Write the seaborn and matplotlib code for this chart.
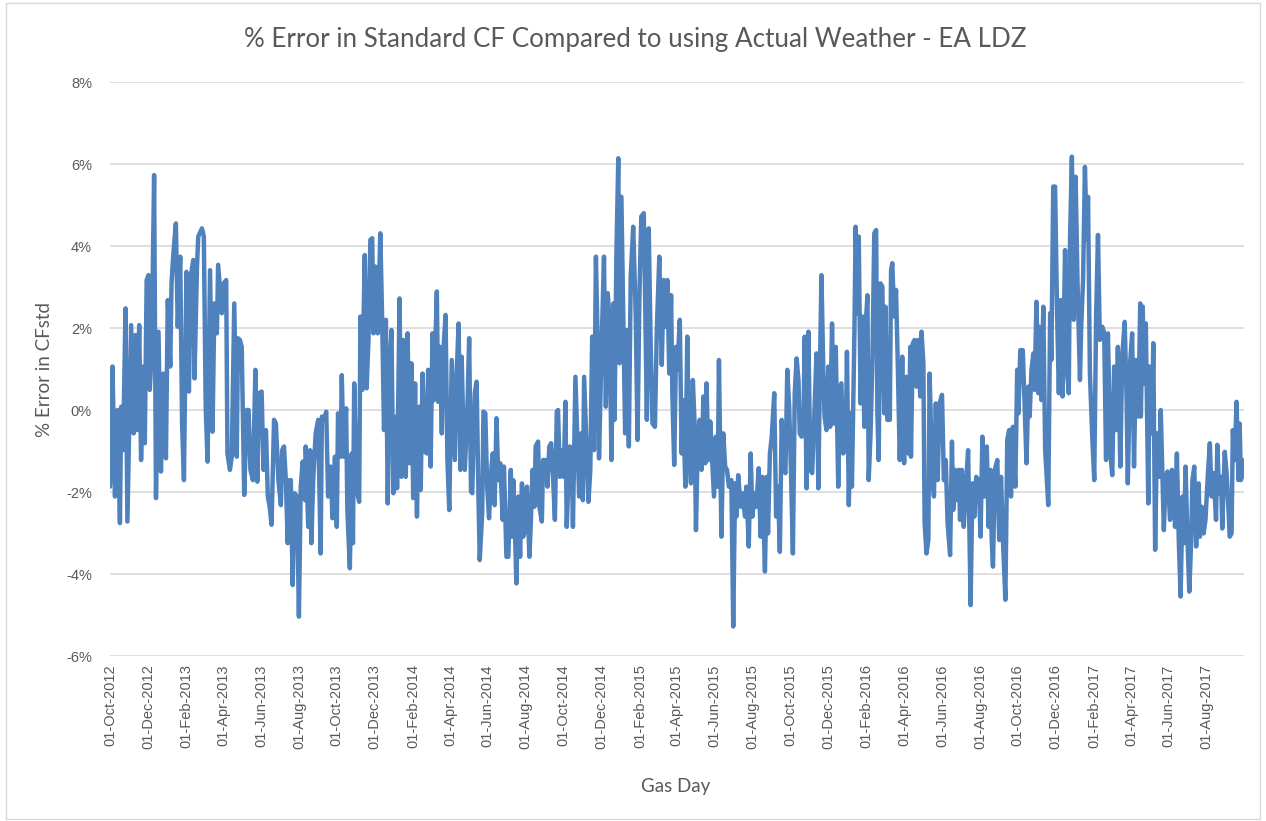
import pandas as pd
import numpy as np
import seaborn as sns
import matplotlib.pyplot as plt
import matplotlib.dates as mdates
from matplotlib.patches import Rectangle
from matplotlib.ticker import FuncFormatter

# gas days counted from 01-Oct-2012, and the % error
start_day = '2012-10-01'
day_offset = [
    0, 2, 4, 8, 12, 16, 18, 21, 25, 28, 34, 38, 41, 43, 47, 50, 54, 56, 59, 62, 64, 67, 71, 74, 78, 82, 86, 90,
    93, 97, 99, 102, 106, 109, 113, 116, 119, 123, 127, 130, 134, 136, 140, 142, 148, 151, 154, 157, 161, 165,
    168, 172, 174, 180,
    183, 187, 189, 193, 196, 200, 204, 206, 209, 212, 216, 220, 223, 226, 230, 234, 237, 240, 244, 247, 251,
    254, 257, 260, 264, 267, 271, 275, 277, 280, 283, 286, 289, 291, 294, 297, 301, 304, 307, 310, 314, 315,
    319, 322, 324, 327, 331, 335, 339, 341, 344, 348, 351, 355, 358, 362, 365, 367,
    371, 373, 376, 380, 382, 386, 389, 391, 393, 397, 401, 403, 406, 410, 413, 416, 419, 422, 424, 427, 431,
    435, 438, 441, 444, 447, 450, 453, 456, 460, 462, 466, 469, 472, 476, 479, 482, 485, 488, 491, 494, 497,
    500, 503, 507, 510, 512, 516, 519, 521, 526, 528, 531, 534, 536, 540, 543, 546, 550,
    555, 558, 561, 564, 566, 568, 571, 575, 578, 581, 583, 587, 590, 593, 595, 599, 601, 604, 607, 610, 614,
    616, 619, 622, 625, 628, 632, 634, 638, 641, 645, 647, 649, 652, 654, 657, 660, 663, 665, 668, 671, 675,
    677, 680, 683, 685, 689, 691, 695, 697, 701, 704, 707, 710, 713, 716, 719, 721, 724, 727, 730, 733, 735,
    740, 743, 745, 749, 751, 755, 758, 761, 763, 766, 770, 773, 776, 779, 782, 785, 787, 791, 795, 798, 801,
    804, 807, 810, 812, 815, 818, 820, 823, 826, 829, 832, 835, 838, 842, 846, 849, 852, 855, 859, 861, 864,
    867, 870, 873, 877, 880, 884, 888, 891, 894, 897, 900, 903, 905, 908, 911, 913, 917, 920,
    922, 926, 929, 932, 935, 938, 941, 943, 946, 949, 952, 955, 958, 960, 963, 966, 969, 972, 975, 978, 980,
    984, 987, 990, 993, 996, 1000, 1003, 1006, 1008, 1011, 1015, 1018, 1022, 1024, 1028, 1031, 1034, 1037,
    1040, 1044, 1047, 1050, 1054, 1057, 1059, 1062, 1065, 1069, 1072, 1075, 1078, 1081, 1084, 1087, 1090,
    1093, 1096, 1099, 1102, 1105,
    1108, 1110, 1113, 1116, 1118, 1121, 1124, 1127, 1130, 1133, 1137, 1140, 1143, 1145, 1148, 1150, 1153,
    1156, 1159, 1162, 1165, 1168, 1172, 1175, 1177, 1180, 1184, 1186, 1189, 1192, 1194, 1198, 1200, 1203,
    1205, 1208, 1211, 1214, 1216, 1219, 1221, 1224, 1227, 1230, 1233, 1235, 1237, 1240, 1243, 1246, 1248,
    1251, 1255, 1257, 1259, 1262, 1265, 1268, 1271, 1275, 1278, 1281, 1285, 1288,
    1289, 1292, 1295, 1298, 1301, 1304, 1306, 1309, 1311, 1314, 1317, 1319, 1323, 1326, 1329, 1332, 1335,
    1339, 1342, 1345, 1348, 1352, 1355, 1357, 1360, 1362, 1366, 1368, 1371, 1374, 1377, 1381, 1383, 1385,
    1388, 1391, 1394, 1398, 1401, 1404, 1407, 1411, 1414, 1417, 1419, 1421, 1424, 1428, 1431, 1434, 1437,
    1441, 1444, 1447, 1450, 1453, 1457, 1460, 1462, 1465, 1469,
    1475, 1478, 1480, 1483, 1486, 1488, 1491, 1494, 1496, 1499, 1502, 1505, 1510, 1513, 1515, 1518, 1521,
    1524, 1527, 1530, 1533, 1537, 1540, 1543, 1545, 1548, 1551, 1554, 1557, 1561, 1563, 1566, 1569, 1572,
    1574, 1577, 1581, 1584, 1587, 1590, 1593, 1597, 1600, 1603, 1606, 1610, 1613, 1616, 1619, 1622, 1626,
    1629, 1633, 1636, 1638, 1642, 1645, 1648, 1651, 1655, 1658,
    1659, 1662, 1664, 1667, 1671, 1673, 1677, 1679, 1682, 1685, 1688, 1691, 1694, 1696, 1699, 1702, 1706,
    1709, 1712, 1714, 1717, 1720, 1723, 1726, 1728, 1731, 1734, 1737, 1740, 1742, 1745, 1748, 1752, 1754,
    1757, 1760, 1763, 1767, 1770, 1773, 1776, 1780, 1782, 1785, 1788, 1790, 1794, 1797, 1799, 1802, 1805,
    1807, 1810, 1813, 1816, 1818, 1820, 1822, 1825,
]
error_pct = [
    -1.87, -1.14, 1.06, -2.11, 0.0, -2.76, 0.08, -0.98, 2.48, -2.72, 2.07, -0.57, 1.83, -0.49, 2.07, -1.22,
    1.06, -0.81, 3.17, 3.29, 0.49, 1.38, 5.73, -2.15, 1.91, -1.50, 0.89, -1.18, 2.68, 1.06, 3.09, 3.82, 4.55,
    2.03, 3.74, -0.33, -1.71, 3.37, 0.45, 3.25, 3.66, 0.77, 3.50, 4.23, 4.43, 4.23, 0.08, -1.26, 3.41, -0.53,
    2.60, 1.87, 3.54, 2.36,
    3.09, 3.17, -1.06, -1.46, -1.14, 2.60, -1.14, 1.75, 1.71, 1.54, -2.07, 0.0, 0.0, -1.46, -1.71, 0.98,
    -1.75, 0.41, 0.45, -1.46, -0.49, -2.11, -2.36, -2.80, -0.24, -0.33, -1.71, -2.32, -0.98, -0.89, -1.71,
    -3.25, -1.71, -1.71, -4.27, -2.03, -2.11, -5.04, -1.87, -1.26, -2.20, -0.89, -2.85, -0.98, -3.25, -1.71,
    -0.57, -0.24, -3.50, -0.16, -0.24, -0.04, -2.11, -1.38, -2.64, -1.14, -2.85, -0.08,
    -1.14, 0.85, -1.14, 0.04, -2.44, -3.86, -1.06, -3.25, 0.65, -1.95, -2.24, 2.28, 0.49, 3.78, 0.53, 1.71,
    4.15, 4.19, 1.87, 3.50, 1.87, 4.31, 2.20, -0.49, 2.20, -2.28, 1.06, 1.95, -2.03, -0.16, -1.91, 2.72,
    -1.63, 1.71, -1.63, 1.87, -1.30, 1.14, -2.15, 0.65, -2.60, 0.08, -1.95, 0.89, -1.02, -1.06, 0.98, -1.38,
    1.87, 0.24, 2.89, 0.20, 1.54, -0.57, 1.30, 2.32, -1.22, -2.44, 1.22,
    -1.22, 0.89, 2.11, -1.46, 1.30, -0.08, -1.46, -0.08, 1.75, -1.99, -2.03, 0.41, 0.69, -2.11, -3.66, -2.52,
    -0.04, -0.08, -1.87, -2.64, -1.38, -1.06, -2.32, -0.20, -1.71, -1.30, -2.68, -1.38, -3.58, -3.58, -1.46,
    -3.09, -1.71, -3.09, -4.23, -2.11, -3.58, -1.79, -3.09, -2.93, -1.87, -3.58, -2.85, -1.46, -2.36, -0.89,
    -0.77, -2.36, -2.72, -1.22, -1.22, -1.87, -0.89, -0.81, -1.63, -2.68, -0.04, 0.0, -1.63, -0.98, -1.63,
    0.20, -2.85,
    -0.89, -0.98, -2.85, 0.81, -0.16, -2.11, -0.57, -2.20, 0.81, -0.49, -2.24, -1.46, 1.79, -0.98, 3.74, 1.54,
    -1.18, 1.46, 3.74, 0.08, 2.85, 2.20, -1.22, 2.60, -0.24, 3.82, 6.14, 1.14, 5.20, 2.36, -0.57, 1.95, -0.89,
    3.25, 4.47, 2.36, -0.73, 2.76, 4.72, 4.80, 2.93, -0.24, 4.43, 1.71, -0.33, -0.41, 1.95, 3.74, 1.10, 3.17,
    2.03, 3.17, 0.89, 2.80, 0.41, -1.34, 1.54, 0.98, 2.20, -1.06,
    0.24, -1.87, 1.79, -1.06, -1.79, 0.73, -0.41, -2.93, -0.73, -0.24, -1.46, 0.33, -1.30, 0.65, -1.22, -0.28,
    -1.22, -2.11, -0.65, -1.87, 1.22, -3.09, -0.57, -1.38, -1.46, -1.87, -1.71, -5.28, -1.79, -2.60, -1.59,
    -2.36, -2.03, -2.60, -1.87, -3.33, -1.06, -2.60, -2.03, -2.36, -1.42, -3.09, -1.63, -3.94, -1.63, -3.01,
    -1.06, -0.65, 0.41, -2.60, -1.87, -3.46, -0.24, -1.38, -1.54, 0.98, 0.08, -1.54, -3.50, 0.41, 1.26,
    0.73, -0.57, -0.65, -0.33, 1.79, -1.91, 1.91, -1.46, -1.54, -0.33, 1.38, -1.91, 1.46, 3.29, 0.89, -0.16,
    -0.49, 1.06, -0.41, 2.11, -0.33, 1.54, -1.87, 0.57, 0.65, -1.06, -0.89, 1.42, -2.32, -0.08, -1.87, 1.87,
    4.47, 2.36, 4.23, 0.16, 2.28, -0.41, 2.03, 2.80, -1.71, -0.57, 1.22, 4.31, 4.39, -0.08, -1.22, 3.09, 3.01,
    -0.08, 2.52, -0.24, -0.24, 3.41, 3.58, 2.28, 2.93, 0.98, -1.22, 1.30, -1.30, 0.81, -1.06, 1.54,
    -1.14, 1.63, 1.71, 0.57, 1.71, 0.33, 1.91, 1.14, -2.76, -3.50, -3.17, 0.89, -1.46, -2.11, 0.16, -1.71,
    0.16, 0.37, -1.71, -1.22, -2.76, -3.54, -0.77, -2.44, -1.46, -2.20, -1.46, -2.68, -1.46, -2.85, -1.95,
    -0.98, -2.85, -4.76, -1.79, -2.60, -1.63, -1.71, -3.09, -0.65, -2.11, -0.89, -2.85, -1.46, -3.17, -3.82,
    -1.46, -1.22, -3.17, -1.63, -3.17, -4.63, -0.73, -0.49, -2.11, -0.41, -1.87, 0.98, -0.08, 1.46, 1.46,
    -1.30, 0.57, -0.16, 0.98, 1.38, 0.49, 2.64, 0.41, 2.03, 0.24, 2.52, -0.98, -2.32, 2.36, 1.22, 5.45, 5.45,
    2.52, 0.41, 2.68, 0.33, 3.90, 0.98, 0.41, 4.15, 6.18, 2.20, 5.69, 3.17, 0.73, 2.03, 3.17, 5.93, 4.15,
    5.20, 0.89, -0.73, -1.71, 2.28, 4.27, 1.71, 2.03, 1.87, -1.22, 1.87, -1.06, -1.59, 1.06, -0.49, 1.54,
    -1.38, 1.30, 2.15, 0.33, -1.79, 1.22, 1.87, -1.38, 1.22, -0.16, 2.60,
    -0.16, 2.52, 0.65, 2.11, -2.28, 1.06, -0.57, 1.63, -3.41, -0.57, -1.63, 0.0, -1.71, -2.93, -1.63, -1.50,
    -2.68, -1.46, -1.54, -2.85, -1.06, -3.17, -4.55, -2.11, -3.25, -1.38, -3.17, -4.43, -3.17, -1.71, -1.38,
    -3.33, -1.79, -3.09, -2.36, -3.01, -2.68, -1.54, -0.81, -2.11, -1.54, -2.68, -0.85, -2.03, -1.63, -2.89,
    -1.02, -1.54, -2.11, -3.09, -3.01, -0.49, -1.22, 0.20, -1.71, -0.33, -1.71, -1.22, -1.63,
]
y_ticks = [-6, -4, -2, 0, 2, 4, 6, 8]

df = pd.DataFrame({
    'gas_day': pd.Timestamp(start_day) + pd.to_timedelta(day_offset, unit='D'),
    'error': error_pct,
})

sns.set_style('white')
plt.rcParams['font.family'] = ['Liberation Sans', 'DejaVu Sans']
grey = '#595959'

fig = plt.figure(figsize=(12.66, 8.21), dpi=100)
ax = fig.add_axes([110 / 1266, 1 - 656 / 821, 1134 / 1266, 574 / 821])

sns.lineplot(data=df, x='gas_day', y='error', ax=ax, color='#4F81BD', linewidth=3.2, sort=False)

ax.set_xlim(pd.Timestamp('2012-10-01'), pd.Timestamp('2017-09-30'))
ax.set_ylim(-6, 8)
ax.set_yticks(y_ticks)
ax.yaxis.set_major_formatter(FuncFormatter(lambda v, p: f'{v:.0f}%'))
ax.xaxis.set_major_locator(mdates.MonthLocator(bymonth=[2, 4, 6, 8, 10, 12]))
ax.xaxis.set_major_formatter(mdates.DateFormatter('%d-%b-%Y'))
ax.tick_params(axis='x', rotation=90, length=0, pad=6, labelsize=10.5, labelcolor=grey)
ax.tick_params(axis='y', length=0, pad=13, labelsize=10.5, labelcolor=grey)
ax.yaxis.grid(True, color='#D9D9D9', linewidth=1.2)
ax.xaxis.grid(False)
for s in ax.spines.values():
    s.set_visible(False)
ax.set_xlabel('')
ax.set_ylabel('')

fig.text(635 / 1266, 1 - 40 / 821, '% Error in Standard CF Compared to using Actual Weather - EA LDZ',
         ha='center', va='center', fontsize=18.7, color=grey, family=['Lato', 'DejaVu Sans'])
fig.text(45 / 1266, 1 - 369 / 821, '% Error in CFstd', rotation=90, ha='center', va='center',
         fontsize=13.5, color=grey, family=['Lato', 'DejaVu Sans'])
fig.text(676 / 1266, 1 - 786 / 821, 'Gas Day', ha='center', va='center',
         fontsize=13.5, color=grey, family=['Lato', 'DejaVu Sans'])

fig.patches.append(Rectangle((6 / 1266, 2 / 821), 1254 / 1266, 816 / 821, transform=fig.transFigure,
                             fill=False, edgecolor='#D9D9D9', linewidth=1))

fig.savefig('out.png', dpi=100)
